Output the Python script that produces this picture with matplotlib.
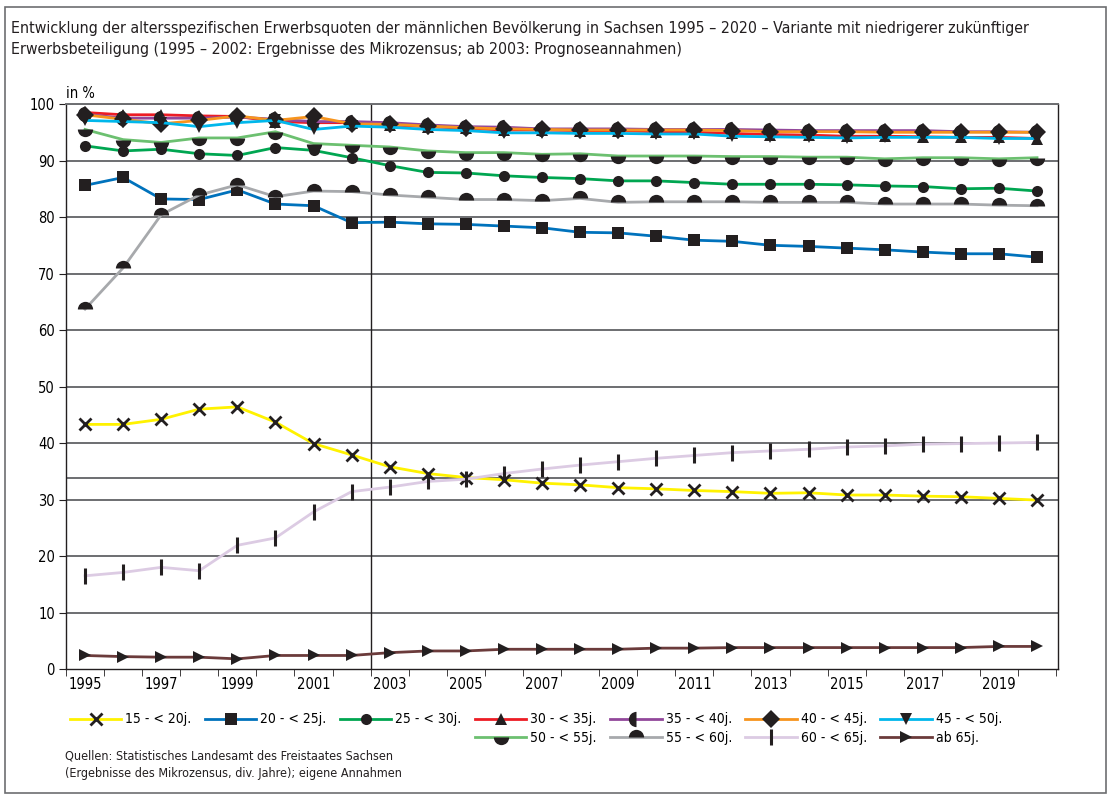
import matplotlib
matplotlib.use("Agg")
import matplotlib.pyplot as plt
from matplotlib.lines import Line2D
from matplotlib.patches import Rectangle

plt.rcParams['font.family'] = ['DejaVu Sans']
plt.rcParams['font.stretch'] = 'condensed'

# Erwerbsquoten in % (1995 - 2020)
years = list(range(1995, 2021))

q15 = [43.3, 43.3, 44.2, 46.0, 46.4, 43.7, 39.9, 37.9, 35.8, 34.6, 33.9, 33.5, 32.9,
       32.6, 32.1, 31.9, 31.6, 31.4, 31.1, 31.2, 30.8, 30.8, 30.6, 30.5, 30.2, 29.9]
q20 = [85.6, 87.0, 83.2, 83.1, 84.8, 82.3, 82.0, 79.0, 79.1, 78.8, 78.7, 78.4, 78.1,
       77.3, 77.2, 76.6, 75.9, 75.7, 75.0, 74.8, 74.5, 74.2, 73.8, 73.5, 73.5, 72.9]
q25 = [92.6, 91.7, 92.0, 91.2, 90.9, 92.3, 91.8, 90.5, 89.1, 87.9, 87.8, 87.3, 87.0,
       86.8, 86.4, 86.4, 86.1, 85.8, 85.8, 85.8, 85.7, 85.5, 85.4, 85.0, 85.1, 84.6]
q30 = [98.5, 98.1, 98.1, 97.9, 97.8, 96.9, 96.7, 96.7, 96.3, 96.0, 95.7, 95.4, 95.4,
       95.3, 95.3, 95.1, 95.0, 94.8, 94.6, 94.5, 94.3, 94.3, 94.2, 94.1, 94.1, 93.9]
q35 = [98.2, 97.5, 97.5, 97.5, 97.7, 97.3, 96.9, 96.9, 96.7, 96.3, 96.0, 95.9, 95.6,
       95.6, 95.6, 95.5, 95.5, 95.5, 95.4, 95.3, 95.3, 95.3, 95.3, 95.1, 95.1, 95.0]
q40 = [98.1, 97.3, 96.5, 97.1, 97.9, 97.1, 97.8, 96.5, 96.4, 96.1, 95.8, 95.6, 95.5,
       95.4, 95.4, 95.4, 95.4, 95.3, 95.1, 95.1, 95.1, 95.0, 95.0, 95.0, 95.0, 95.0]
q45 = [97.1, 96.9, 96.7, 96.0, 96.7, 97.1, 95.5, 96.1, 95.9, 95.5, 95.3, 94.9, 94.9,
       94.8, 94.8, 94.7, 94.7, 94.3, 94.2, 94.1, 94.0, 94.1, 94.1, 94.1, 93.9, 93.9]
q50 = [95.5, 93.7, 93.2, 94.0, 94.0, 95.1, 93.0, 92.7, 92.4, 91.7, 91.4, 91.4, 91.1,
       91.2, 90.8, 90.8, 90.8, 90.7, 90.7, 90.6, 90.6, 90.3, 90.5, 90.5, 90.3, 90.5]
q55 = [63.7, 71.0, 80.4, 83.9, 85.7, 83.6, 84.6, 84.5, 83.9, 83.5, 83.1, 83.1, 82.9,
       83.3, 82.6, 82.7, 82.7, 82.7, 82.6, 82.6, 82.6, 82.3, 82.3, 82.3, 82.1, 82.0]
q60 = [16.5, 17.1, 18.0, 17.4, 21.9, 23.2, 27.8, 31.4, 32.2, 33.2, 33.6, 34.6, 35.4,
       36.1, 36.7, 37.3, 37.8, 38.3, 38.6, 38.9, 39.3, 39.5, 39.8, 39.9, 40.0, 40.1]
q65 = [2.4, 2.2, 2.1, 2.1, 1.8, 2.4, 2.4, 2.4, 2.9, 3.2, 3.2, 3.5, 3.5,
       3.5, 3.5, 3.7, 3.7, 3.8, 3.8, 3.8, 3.8, 3.8, 3.8, 3.8, 4.0, 4.0]

labels = ['15 - < 20j.', '20 - < 25j.', '25 - < 30j.', '30 - < 35j.', '35 - < 40j.',
          '40 - < 45j.', '45 - < 50j.', '50 - < 55j.', '55 - < 60j.', '60 - < 65j.', 'ab 65j.']
series = [q15, q20, q25, q30, q35, q40, q45, q50, q55, q60, q65]
colors = ['#fff200', '#0072bc', '#00a651', '#ed1c24', '#92479b', '#f7941d',
          '#00b7eb', '#6cc070', '#a7a9ac', '#dccbe3', '#6b3b3b']
# marker, fillstyle
markers = [('x', 'full'), ('s', 'full'), ('o', 'full'), ('^', 'full'), ('o', 'left'),
           ('D', 'full'), ('v', 'full'), ('o', 'bottom'), ('o', 'top'), ('|', 'full'),
           ('>', 'full')]

y_ticks = list(range(0, 101, 10))
x_ticklabels = list(range(1995, 2021, 2))
extra_line = 33.8      # zusätzliche waagerechte Linie
split_year = 2002.5    # Mikrozensus | Prognose

fig = plt.figure(figsize=(11.09, 7.96), dpi=100)
ax = fig.add_axes([0.0595, 0.1595, 0.8945, 0.7098])

for y in y_ticks[1:]:
    ax.axhline(y, color='#6d6e71', lw=1.4, zorder=1)
ax.axhline(extra_line, color='#6d6e71', lw=1.4, zorder=1)
ax.axvline(split_year, color='#231f20', lw=1.0, zorder=1)

handles = []
for vals, lab, col, (m, fs) in zip(series, labels, colors, markers):
    kw = dict(color=col, lw=2.0, marker=m, markersize=8,
              markerfacecolor='#231f20', markeredgecolor='#231f20', zorder=3)
    if m == 'x':
        kw.update(markeredgewidth=2.0, markersize=8)
    elif m == '|':
        kw.update(markeredgewidth=2.2, markersize=12)
    elif fs != 'full':
        kw.update(fillstyle=fs, markerfacecoloralt=(1, 1, 1, 0), markeredgewidth=0, markersize=11)
    elif m == 'o':
        kw.update(markeredgewidth=0, markersize=8)
    elif m == 'D':
        kw.update(markeredgewidth=0, markersize=9.5)
    else:
        kw.update(markeredgewidth=0, markersize=9 if m in ('^', 'v', '>') else 8)
    ax.plot(years, vals, label=lab, **kw)
    handles.append(Line2D([], [], **kw))

ax.set_xlim(1994.5, 2020.55)
ax.set_ylim(0, 100)
ax.set_yticks(y_ticks)
ax.set_xticks(x_ticklabels)
ax.set_xticks([y + 0.5 for y in range(1994, 2021)], minor=True)
ax.tick_params(axis='x', which='major', length=0, pad=6, labelsize=10.5)
ax.tick_params(axis='x', which='minor', length=5, direction='out', color='#231f20')
ax.tick_params(axis='y', length=5, direction='out', labelsize=10.5, pad=3, color='#231f20')
for s in ['left', 'bottom', 'right']:
    ax.spines[s].set_color('#231f20')
    ax.spines[s].set_linewidth(1.0)
ax.spines['top'].set_color('#6d6e71')
ax.spines['top'].set_linewidth(1.4)
ax.text(0.0, 1.005, 'in %', transform=ax.transAxes, fontsize=10.5, ha='left', va='bottom')

# Legende: 7 Spalten, zweite Zeile ab Spalte 4
blank = Line2D([], [], lw=0, marker=None)
order = [(handles[0], labels[0]), (blank, ''), (handles[1], labels[1]), (blank, ''),
         (handles[2], labels[2]), (blank, ''), (handles[3], labels[3]), (handles[7], labels[7]),
         (handles[4], labels[4]), (handles[8], labels[8]), (handles[5], labels[5]),
         (handles[9], labels[9]), (handles[6], labels[6]), (handles[10], labels[10])]
fig.legend([h for h, l in order], [l for h, l in order], ncol=7, frameon=False,
           loc='upper left', bbox_to_anchor=(0.058, 0.112), fontsize=10,
           handlelength=3.7, handletextpad=0.3, columnspacing=0.95,
           labelspacing=0.35, borderaxespad=0)

fig.text(0.0095, 0.974, 'Entwicklung der altersspezifischen Erwerbsquoten der männlichen Bevölkerung '
         'in Sachsen 1995 – 2020 – Variante mit niedrigerer zukünftiger\n'
         'Erwerbsbeteiligung (1995 – 2002: Ergebnisse des Mikrozensus; ab 2003: Prognoseannahmen)',
         fontsize=11.4, ha='left', va='top', linespacing=1.5, color='#231f20')
fig.text(0.059, 0.058, 'Quellen: Statistisches Landesamt des Freistaates Sachsen\n'
         '(Ergebnisse des Mikrozensus, div. Jahre); eigene Annahmen',
         fontsize=9, ha='left', va='top', linespacing=1.4, color='#231f20')

fig.patches.append(Rectangle((0.0045, 0.004), 0.993, 0.987, transform=fig.transFigure,
                             fill=False, edgecolor='#6d6e71', lw=1.2))

plt.savefig('out.png', dpi=100)
